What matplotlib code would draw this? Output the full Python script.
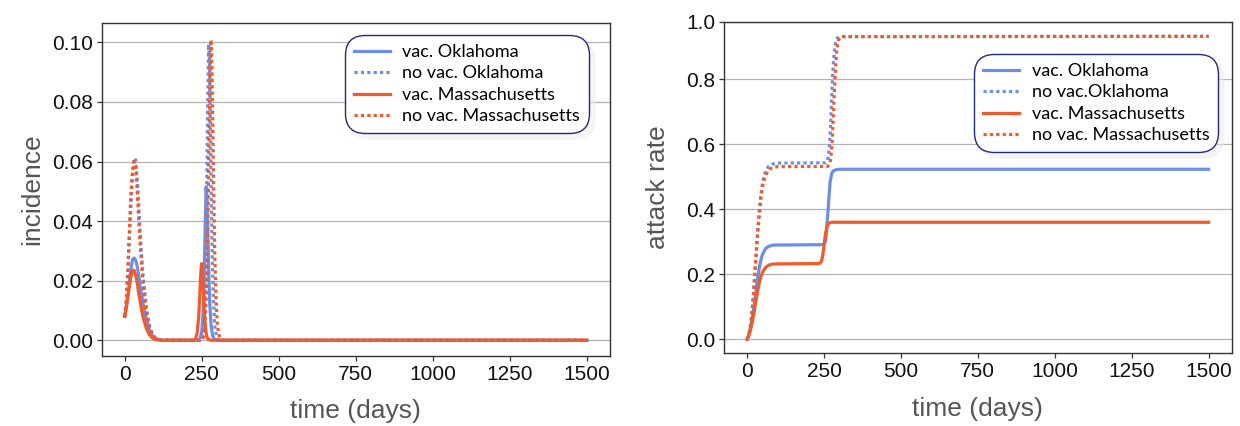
# ============================================================
# INCIDENCE AND ATTACK RATE - OKLAHOMA x MASSACHUSETTS
# ============================================================

import matplotlib
matplotlib.use("Agg")
import matplotlib.pyplot as plt

# ============================================================
# 1. DATA
# ============================================================

# ---------------- incidence ----------------

t_inc_ok_vac = [0, 5, 10, 15, 20, 25, 30, 35, 40, 45, 50, 55, 60, 70, 80, 90, 100, 120,
                240, 245, 250, 255, 258, 261, 264, 267, 270, 273, 276, 280, 285, 290, 300, 1500]
inc_ok_vac = [0.008, 0.011, 0.015, 0.020, 0.024, 0.027, 0.0276, 0.027, 0.025, 0.022, 0.018, 0.015,
              0.012, 0.007, 0.0035, 0.0015, 0.0006, 0.0,
              0.0, 0.0008, 0.003, 0.011, 0.022, 0.038, 0.0515, 0.047, 0.034, 0.021, 0.012, 0.005,
              0.0015, 0.0004, 0.0, 0.0]

t_inc_ok_novac = [0, 5, 10, 15, 20, 25, 30, 35, 40, 45, 50, 55, 60, 70, 80, 90, 100, 120,
                  245, 250, 255, 260, 263, 266, 269, 272, 275, 278, 281, 284, 288, 292, 297, 305, 1500]
inc_ok_novac = [0.008, 0.013, 0.022, 0.034, 0.046, 0.055, 0.061, 0.061, 0.055, 0.046, 0.036, 0.028,
                0.021, 0.011, 0.005, 0.002, 0.0008, 0.0,
                0.0, 0.0008, 0.004, 0.014, 0.028, 0.050, 0.078, 0.0994, 0.094, 0.072, 0.047, 0.028,
                0.013, 0.005, 0.0015, 0.0, 0.0]

t_inc_ma_vac = [0, 5, 10, 15, 20, 25, 30, 35, 40, 45, 50, 55, 60, 70, 80, 90, 100, 120,
                225, 230, 235, 240, 243, 246, 249, 252, 255, 258, 262, 266, 270, 280, 1500]
inc_ma_vac = [0.008, 0.011, 0.0145, 0.018, 0.0215, 0.0235, 0.0235, 0.022, 0.0195, 0.016, 0.013, 0.010,
              0.0075, 0.004, 0.0018, 0.0007, 0.0002, 0.0,
              0.0, 0.0005, 0.0025, 0.008, 0.014, 0.021, 0.0257, 0.023, 0.016, 0.0095, 0.004, 0.0013,
              0.0004, 0.0, 0.0]

t_inc_ma_novac = [0, 5, 10, 15, 20, 25, 30, 35, 40, 45, 50, 55, 60, 70, 80, 90, 100, 120,
                  250, 255, 260, 265, 268, 271, 274, 277, 280, 283, 286, 289, 292, 296, 300, 305, 312,
                  320, 1500]
inc_ma_novac = [0.008, 0.014, 0.024, 0.037, 0.049, 0.057, 0.060, 0.058, 0.051, 0.041, 0.032, 0.025,
                0.018, 0.009, 0.004, 0.0015, 0.0005, 0.0,
                0.0, 0.001, 0.005, 0.016, 0.028, 0.048, 0.072, 0.092, 0.1009, 0.092, 0.070, 0.047,
                0.029, 0.014, 0.006, 0.002, 0.0004, 0.0, 0.0]

# ---------------- attack rate ----------------

t_ar_ok_vac = [0, 5, 10, 15, 20, 25, 30, 35, 40, 45, 50, 60, 70, 80, 90, 100, 245, 250, 255,
               258, 261, 264, 267, 270, 275, 280, 290, 300, 1500]
ar_ok_vac = [0.0, 0.012, 0.03, 0.055, 0.085, 0.12, 0.158, 0.193, 0.222, 0.245, 0.261, 0.279, 0.286,
             0.289, 0.290, 0.290, 0.291, 0.294, 0.30, 0.33, 0.37, 0.41, 0.45, 0.485, 0.51, 0.518,
             0.522, 0.523, 0.523]

t_ar_ok_novac = [0, 5, 10, 15, 20, 25, 30, 35, 40, 45, 50, 55, 60, 70, 80, 90, 100, 255, 260,
                 264, 268, 271, 274, 277, 280, 284, 288, 293, 300, 1500]
ar_ok_novac = [0.0, 0.012, 0.035, 0.075, 0.13, 0.20, 0.27, 0.34, 0.40, 0.447, 0.48, 0.502, 0.517,
               0.532, 0.538, 0.541, 0.542, 0.543, 0.548, 0.56, 0.60, 0.65, 0.72, 0.79, 0.845, 0.89,
               0.915, 0.926, 0.931, 0.932]

t_ar_ma_vac = [0, 5, 10, 15, 20, 25, 30, 35, 40, 45, 50, 60, 70, 80, 100, 235, 240, 243, 246,
               249, 252, 255, 258, 262, 266, 275, 1500]
ar_ma_vac = [0.0, 0.01, 0.025, 0.045, 0.07, 0.097, 0.125, 0.152, 0.175, 0.193, 0.206, 0.221,
             0.228, 0.231, 0.232, 0.233, 0.237, 0.245, 0.26, 0.28, 0.305, 0.325, 0.34, 0.352,
             0.357, 0.36, 0.36]

t_ar_ma_novac = [0, 5, 10, 15, 20, 25, 30, 35, 40, 45, 50, 55, 60, 70, 80, 90, 100, 262, 267,
                 271, 274, 277, 280, 283, 286, 289, 292, 296, 302, 310, 1500]
ar_ma_novac = [0.0, 0.012, 0.035, 0.075, 0.13, 0.20, 0.27, 0.335, 0.39, 0.435, 0.468, 0.49, 0.505,
               0.52, 0.527, 0.53, 0.531, 0.532, 0.537, 0.55, 0.575, 0.62, 0.68, 0.75, 0.81, 0.86,
               0.895, 0.918, 0.928, 0.931, 0.932]

labels_inc = ['vac. Oklahoma', 'no vac. Oklahoma', 'vac. Massachusetts', 'no vac. Massachusetts']
labels_ar = ['vac. Oklahoma', 'no vac.Oklahoma', 'vac. Massachusetts', 'no vac. Massachusetts']

x_ticks = [0, 250, 500, 750, 1000, 1250, 1500]
inc_ticks = [0.00, 0.02, 0.04, 0.06, 0.08, 0.10]
inc_tick_labels = ['0.00', '0.02', '0.04', '0.06', '0.08', '0.10']
ar_tick_labels = ['0.0', '0.2', '0.4', '0.6', '0.8', '1.0']

# ============================================================
# 2. STYLE
# ============================================================

BLUE = '#6b8fe6'
ORANGE = '#f15a2b'
DOTTED = (0, (1, 1))
LW = 2.3

plt.rcParams['font.family'] = ['Liberation Sans', 'DejaVu Sans']

fig = plt.figure(figsize=(12.4, 4.26), dpi=100)

ax1 = fig.add_axes([0.0820, 0.1643, 0.4099, 0.7824])
ax2 = fig.add_axes([0.5839, 0.1707, 0.4094, 0.7784])


def style_axes(ax):
    ax.grid(axis='y', color='#b4b4b4', linewidth=0.9)
    ax.set_axisbelow(True)
    for side in ax.spines.values():
        side.set_color('#333333')
        side.set_linewidth(1.0)
    ax.tick_params(axis='both', direction='out', length=3.5, width=0.9,
                   color='#333333', labelsize=15, pad=3, labelcolor='#111111')
    ax.set_xticks(x_ticks)
    ax.set_xlim(-75, 1575)
    ax.set_xlabel('time (days)', fontsize=19, color='#555555', labelpad=11)


def add_legend(ax, labels, anchor):
    leg = ax.legend(labels, loc='upper right', bbox_to_anchor=anchor,
                    bbox_transform=fig.transFigure, borderaxespad=0,
                    prop={'family': 'Lato', 'size': 13},
                    handlelength=2.0, handletextpad=0.7, labelspacing=0.3,
                    borderpad=0.5, fancybox=True, framealpha=1,
                    shadow={'color': '#ededed', 'ox': 4, 'oy': -4})
    frame = leg.get_frame()
    frame.set_edgecolor('#23297a')
    frame.set_linewidth(1.0)
    frame.set_boxstyle('round,pad=0,rounding_size=1.1')
    return leg

# ============================================================
# 3. INCIDENCE
# ============================================================

ax1.plot(t_inc_ok_vac, inc_ok_vac, color=BLUE, lw=LW)
ax1.plot(t_inc_ok_novac, inc_ok_novac, color=BLUE, lw=LW, linestyle=DOTTED)
ax1.plot(t_inc_ma_vac, inc_ma_vac, color=ORANGE, lw=LW)
ax1.plot(t_inc_ma_novac, inc_ma_novac, color=ORANGE, lw=LW, linestyle=DOTTED)

style_axes(ax1)
ax1.set_ylim(-0.0053, 0.1066)
ax1.set_yticks(inc_ticks, inc_tick_labels)
ax1.set_ylabel('incidence', fontsize=19, color='#555555', labelpad=5)
add_legend(ax1, labels_inc, (0.4752, 0.9178))

# ============================================================
# 4. ATTACK RATE
# ============================================================

ax2.plot(t_ar_ok_vac, ar_ok_vac, color=BLUE, lw=LW)
ax2.plot(t_ar_ok_novac, ar_ok_novac, color=BLUE, lw=LW, linestyle=DOTTED)
ax2.plot(t_ar_ma_vac, ar_ma_vac, color=ORANGE, lw=LW)
ax2.plot(t_ar_ma_novac, ar_ma_novac, color=ORANGE, lw=LW, linestyle=DOTTED)

style_axes(ax2)
ar_top = 0.977
ax2.set_ylim(-0.043, ar_top)
# top label sits on the upper frame line, as in the original figure
ax2.set_yticks([0.0, 0.2, 0.4, 0.6, 0.8, ar_top], ar_tick_labels)
ax2.set_ylabel('attack rate', fontsize=19, color='#555555', labelpad=11)
add_legend(ax2, labels_ar, (0.9825, 0.8732))

# ============================================================
# 5. SAVE
# ============================================================

fig.savefig('out.png', dpi=100)
